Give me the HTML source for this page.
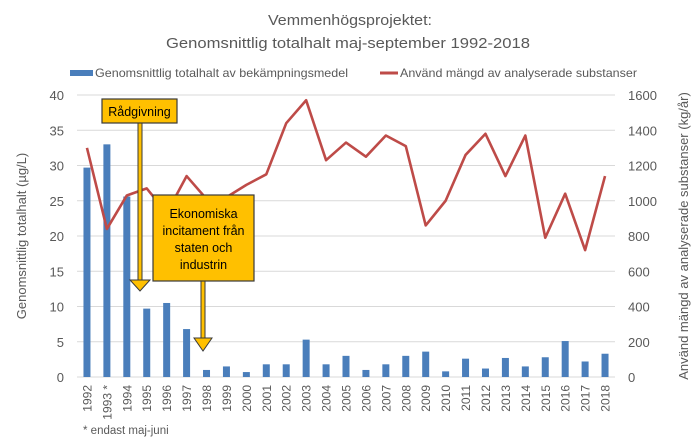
<!DOCTYPE html>
<html><head><meta charset="utf-8"><style>
body{margin:0;background:#fff;font-family:"Liberation Sans",sans-serif}
svg text{font-family:"Liberation Sans",sans-serif;fill:#595959}
</style></head><body>
<svg width="700" height="442" viewBox="0 0 700 442">
<text x="268" y="25" font-size="15" textLength="164" lengthAdjust="spacingAndGlyphs">Vemmenhögsprojektet:</text>
<text x="166" y="48" font-size="15" textLength="364" lengthAdjust="spacingAndGlyphs">Genomsnittlig totalhalt maj-september  1992-2018</text>
<g>
<rect x="70" y="70" width="23" height="6" fill="#4a7ebb"/>
<text x="95" y="77" font-size="12" textLength="253" lengthAdjust="spacingAndGlyphs">Genomsnittlig totalhalt av bekämpningsmedel</text>
<line x1="380" y1="73" x2="398" y2="73" stroke="#be4b48" stroke-width="3"/>
<text x="400" y="77" font-size="12" textLength="237" lengthAdjust="spacingAndGlyphs">Använd mängd av analyserade substanser</text>
</g>
<g id="grid"></g><g id="bars"></g><g id="line"></g><g id="axes"></g>
<text transform="translate(26,236) rotate(-90)" font-size="13" text-anchor="middle">Genomsnittlig totalhalt (µg/L)</text>
<text transform="translate(688,236) rotate(-90)" font-size="13" text-anchor="middle">Använd mängd av analyserade substanser (kg/år)</text>
<text x="83" y="434" font-size="11.5">* endast maj-juni</text>
<g>
<rect x="138" y="123" width="4" height="157" fill="#ffc000" stroke="#3a3a3a" stroke-width="1"/>
<polygon points="130,280 150,280 140,291" fill="#ffc000" stroke="#3a3a3a" stroke-width="1"/>
<rect x="102" y="99" width="75" height="24" fill="#ffc000" stroke="#3a3a3a" stroke-width="1.2"/>
<text x="139.5" y="116" font-size="12.5" text-anchor="middle" style="fill:#000">Rådgivning</text>
</g>
<g>
<rect x="201" y="281" width="4" height="60" fill="#ffc000" stroke="#3a3a3a" stroke-width="1"/>
<polygon points="194,338 212,338 203,351" fill="#ffc000" stroke="#3a3a3a" stroke-width="1"/>
<rect x="153" y="195" width="101" height="86" fill="#ffc000" stroke="#3a3a3a" stroke-width="1.2"/>
<text x="203.5" y="218" font-size="12.5" text-anchor="middle" style="fill:#000">Ekonomiska</text>
<text x="203.5" y="235" font-size="12.5" text-anchor="middle" style="fill:#000">incitament från</text>
<text x="203.5" y="252" font-size="12.5" text-anchor="middle" style="fill:#000">staten och</text>
<text x="203.5" y="269" font-size="12.5" text-anchor="middle" style="fill:#000">industrin</text>
</g>
</svg>
<script>
const years=["1992","1993 *","1994","1995","1996","1997","1998","1999","2000","2001","2002","2003","2004","2005","2006","2007","2008","2009","2010","2011","2012","2013","2014","2015","2016","2017","2018"];
const concentration=[29.7,33,25.6,9.7,10.5,6.8,1.0,1.5,0.7,1.8,1.8,5.3,1.8,3.0,1.0,1.8,3.0,3.6,0.8,2.6,1.2,2.7,1.5,2.8,5.1,2.2,3.3];
const usage=[1300,840,1030,1070,930,1140,1010,1020,1090,1150,1440,1570,1230,1330,1250,1370,1310,860,1000,1260,1380,1140,1370,790,1040,720,1140];
const leftTicks=[0,5,10,15,20,25,30,35,40];
const rightTicks=[0,200,400,600,800,1000,1200,1400,1600];
const NS="http://www.w3.org/2000/svg";
const X0=77,X1=615,Y0=377,Y1=95;
const band=(X1-X0)/years.length;
const x=i=>X0+band*(i+0.5);
const yL=v=>Y0-(v/40)*(Y0-Y1);
const yR=v=>Y0-(v/1600)*(Y0-Y1);
function mk(tag,attrs,parent){const e=document.createElementNS(NS,tag);for(const k in attrs)e.setAttribute(k,attrs[k]);document.getElementById(parent).appendChild(e);return e;}
leftTicks.forEach((t,i)=>{
  const g=mk("line",{x1:X0,x2:X1,y1:yL(t),y2:yL(t),stroke:"#d9d9d9","stroke-width":1},"grid");
  
  
  const tl=mk("text",{x:64,y:yL(t)+5,"font-size":13,"text-anchor":"end"},"axes");
  tl.textContent=t;
  
  
});
rightTicks.forEach(t=>{
  const tr=mk("text",{x:628,y:yR(t)+5,"font-size":13},"axes");
  tr.textContent=t;
  
  
});
years.forEach((yr,i)=>{
  const b=mk("rect",{x:x(i)-3.5,y:yL(concentration[i]),width:7,height:Y0-yL(concentration[i]),fill:"#4a7ebb"},"bars");
  
  
  const t=mk("text",{transform:`translate(${x(i)+4.5},${385}) rotate(-90)`,"font-size":12,"text-anchor":"end"},"axes");
  t.textContent=yr;
  
  
});
const pl=mk("polyline",{points:usage.map((v,i)=>x(i)+","+yR(v)).join(" "),fill:"none",stroke:"#be4b48","stroke-width":2.6,"stroke-linejoin":"round"},"line");


</script>
</body></html>
